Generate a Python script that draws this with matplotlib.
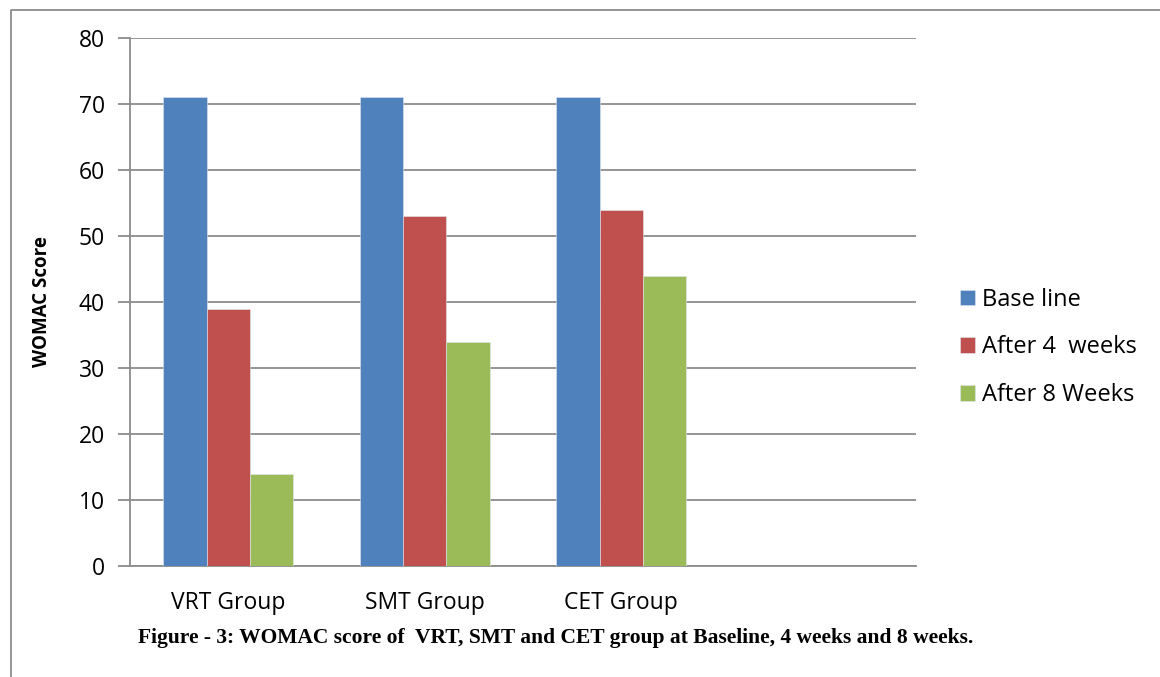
import numpy as np
import matplotlib.pyplot as plt
from matplotlib.lines import Line2D

# WOMAC scores per group
groups = ["VRT Group", "SMT Group", "CET Group", ""]
series_names = ["Base line", "After 4  weeks", "After 8 Weeks"]
baseline = [71, 71, 71]
after_4_weeks = [39, 53, 54]
after_8_weeks = [14, 34, 44]
colors = ["#4F81BD", "#C0504D", "#9BBB59"]

plt.rcParams["font.family"] = ["Open Sans", "DejaVu Sans"]

W, H = 1160, 677
fig = plt.figure(figsize=(W / 100, H / 100), dpi=100)
ax = fig.add_axes([130 / W, 1 - 566 / H, (916 - 130) / W, (566 - 38) / H])

x = np.arange(len(groups))
width = 0.221
for i, (vals, name) in enumerate(zip([baseline, after_4_weeks, after_8_weeks], series_names)):
    ax.bar(x[: len(vals)] + (i - 1) * width, vals, width, color=colors[i],
           edgecolor="#dfe6f0", linewidth=0.4, label=name, zorder=3)

grid_c = "#8c8c8c"
ax.set_xlim(-0.5, len(groups) - 0.5)
ax.set_ylim(0, 80)
ax.set_yticks(range(0, 81, 10))
ax.yaxis.grid(True, color=grid_c, linewidth=1.3, zorder=0)
ax.set_xticks(x)
ax.set_xticklabels(groups, fontsize=16.5)
ax.tick_params(axis="x", length=0, pad=18)
ax.tick_params(axis="y", length=9, width=1.3, color=grid_c, labelsize=16.5, pad=9)
for s in ["top", "right"]:
    ax.spines[s].set_visible(False)
for s in ["left", "bottom"]:
    ax.spines[s].set_color(grid_c)
    ax.spines[s].set_linewidth(1.3)

ax.set_ylabel("WOMAC Score", fontsize=13.5, fontweight="bold", labelpad=19)

leg = ax.legend(loc="center left", bbox_to_anchor=(1.056, 0.414), frameon=False,
                fontsize=17, handlelength=0.65, handleheight=0.65,
                handletextpad=0.3, labelspacing=1.0, borderpad=0, borderaxespad=0)

fig.text(138 / W, 1 - 638 / H,
         "Figure - 3: WOMAC score of  VRT, SMT and CET group at Baseline, 4 weeks and 8 weeks.",
         family="Liberation Serif", fontweight="bold", fontsize=15.5, va="center", ha="left")

# outer frame
fig.add_artist(Line2D([10.5 / W, 10.5 / W, 1.0], [0.0, 1 - 10 / H, 1 - 10 / H],
                      transform=fig.transFigure, color="#8c8c8c", linewidth=1.3))

fig.savefig("out.png", dpi=100)
